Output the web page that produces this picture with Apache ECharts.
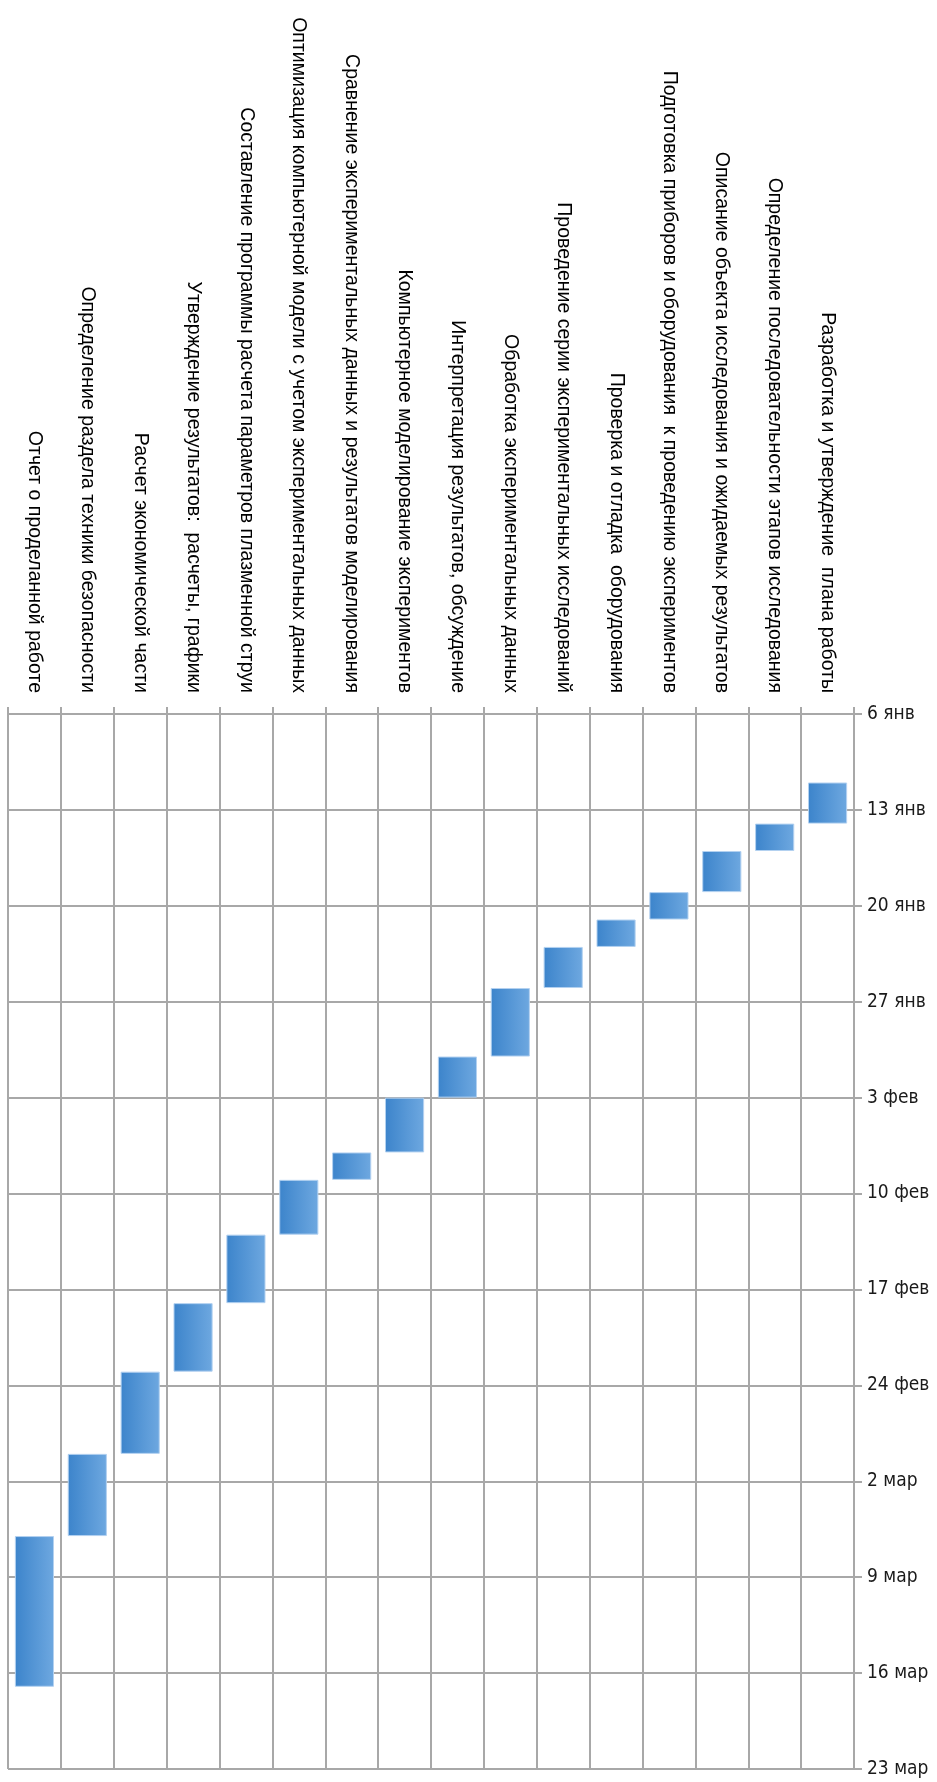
<!DOCTYPE html>
<html>
<head>
<meta charset="utf-8">
<script src="https://cdn.jsdelivr.net/npm/echarts@6/dist/echarts.min.js"></script>
<style>
  html, body { margin: 0; padding: 0; background: #ffffff; }
  #chart { width: 937px; height: 1782px; }
</style>
</head>
<body>
<div id="chart"></div>
<script>
// Work stages in chronological order
const tasks = [
  'Разработка и утверждение  плана работы',
  'Определение последовательности этапов исследования',
  'Описание объекта исследования и ожидаемых результатов',
  'Подготовка приборов и оборудования  к проведению экспериментов',
  'Проверка и отладка  оборудования',
  'Проведение серии экспериментальных исследований',
  'Обработка экспериментальных данных',
  'Интерпретация результатов, обсуждение',
  'Компьютерное моделирование экспериментов',
  'Сравнение экспериментальных данных и результатов моделирования',
  'Оптимизация компьютерной модели с учетом экспериментальных данных',
  'Составление программы расчета параметров плазменной струи',
  'Утверждение результатов:  расчеты, графики',
  'Расчет экономической части',
  'Определение раздела техники безопасности',
  'Отчет о проделанной работе'
];

const startDates = [
  '2020-01-11', '2020-01-14', '2020-01-16', '2020-01-19',
  '2020-01-21', '2020-01-23', '2020-01-26', '2020-01-31',
  '2020-02-03', '2020-02-07', '2020-02-09', '2020-02-13',
  '2020-02-18', '2020-02-23', '2020-02-29', '2020-03-06'
];

const endDates = [
  '2020-01-14', '2020-01-16', '2020-01-19', '2020-01-21',
  '2020-01-23', '2020-01-26', '2020-01-31', '2020-02-03',
  '2020-02-07', '2020-02-09', '2020-02-13', '2020-02-18',
  '2020-02-23', '2020-02-29', '2020-03-06', '2020-03-17'
];

// Weekly tick labels, starting at the timeline origin
const timelineStart = '2020-01-06';
const tickLabels = [
  '6 янв', '13 янв', '20 янв', '27 янв', '3 фев', '10 фев',
  '17 фев', '24 фев', '2 мар', '9 мар', '16 мар', '23 мар'
];

const DAY = 24 * 3600 * 1000;
const dayOffset = d => Math.round((Date.parse(d) - Date.parse(timelineStart)) / DAY);

// Latest stage on the left, first stage on the right
const order = tasks.map((_, i) => i).reverse();
const categories = order.map(i => tasks[i]);
const offsets = order.map(i => dayOffset(startDates[i]));
const durations = order.map(i => dayOffset(endDates[i]) - dayOffset(startDates[i]));

const gridColor = '#a8a8a8';

const chart = echarts.init(document.getElementById('chart'), null, { renderer: 'canvas' });

chart.setOption({
  animation: false,
  backgroundColor: '#ffffff',
  grid: { left: 8, right: 83, top: 714, bottom: 13, containLabel: false },
  xAxis: {
    type: 'category',
    position: 'top',
    data: categories,
    boundaryGap: true,
    axisLine: { show: true, lineStyle: { color: gridColor, width: 2 } },
    axisTick: { show: true, length: 7, interval: 0, lineStyle: { color: gridColor, width: 2 } },
    axisLabel: {
      interval: 0,
      rotate: -90,
      margin: 21,
      color: '#000000',
      fontFamily: 'Liberation Sans, Arial, sans-serif',
      fontSize: 19.5
    },
    splitLine: { show: true, interval: 0, lineStyle: { color: gridColor, width: 2 } }
  },
  yAxis: {
    type: 'value',
    position: 'right',
    inverse: true,
    min: 0,
    max: 77,
    interval: 7,
    axisLine: { show: true, lineStyle: { color: gridColor, width: 2 } },
    axisTick: { show: true, length: 8, lineStyle: { color: gridColor, width: 2 } },
    axisLabel: {
      margin: 13,
      color: '#1a1a1a',
      fontFamily: 'Liberation Sans Narrow, DejaVu Sans Condensed, sans-serif',
      fontSize: 19,
      formatter: v => tickLabels[Math.round(v / 7)]
    },
    splitLine: { show: true, lineStyle: { color: gridColor, width: 2 } }
  },
  series: [
    {
      name: 'start',
      type: 'bar',
      stack: 'gantt',
      silent: true,
      barWidth: '74%',
      itemStyle: { color: 'rgba(0,0,0,0)' },
      data: offsets
    },
    {
      name: 'duration',
      type: 'bar',
      stack: 'gantt',
      barWidth: '74%',
      itemStyle: {
        color: new echarts.graphic.LinearGradient(0, 0, 1, 0, [
          { offset: 0, color: '#3c84cb' },
          { offset: 1, color: '#6ea8e0' }
        ]),
        borderColor: '#b3d1f0',
        borderWidth: 1
      },
      data: durations
    }
  ]
});
</script>
</body>
</html>
